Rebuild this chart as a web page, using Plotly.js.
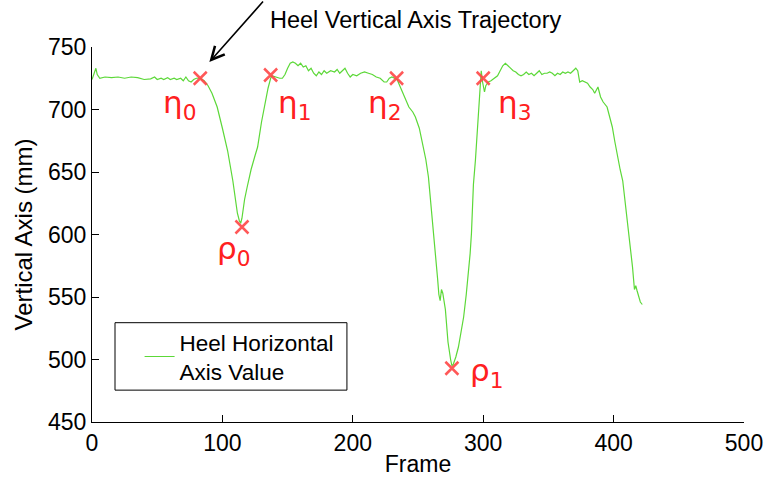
<!DOCTYPE html>
<html>
<head>
<meta charset="utf-8">
<script src="https://cdn.plot.ly/plotly-3.0.1.min.js"></script>
<style>html,body{margin:0;padding:0;background:#fff;}#chart{width:764px;height:477px;}</style>
</head>
<body>
<div id="chart"></div>
<script>
// Heel trajectory (frame, vertical axis value in mm)
const frames = [0,2,3,4,6,10,15,20,25,30,35,40,45,48,50,53,55,58,60,63,65,68,70,72,74,76,78,80,83,
  86,89,92,94,96,100,104,108,110,111.5,113,114,115,117,119,122,125,127,130,133,135,137,138,
  141,144,146,148,150,152,154,156,158,160,162,164,166,168,170,172,174,176,178,180,183,186,188,190,192,194,196,198,200,203,206,209,212,215,218,221,224,226,228,230,232,234,
  236,238,240,243,246,248,251,253,256,258,260,261,263,265,266,267,268,269,271,273,275,276,277,279,281,283,285,287,288.5,290,291,292.5,294,296,297.5,298.5,299.5,301,302,304,306,309,311,313,315,317,319,321,323,325,327,329,331,333,335,337,339,341,343,345,347,349,351,353,355,357,359,361,363,365,367,369,371,372.5,374,376,378,380,382,384,385.5,387,388,390,392,395,397,399,401,403,405,407,409,410.5,412,413,414.5,416,417,418,419,420.5,422];
const heelValues = [724,729,733,728,725,726,725.5,726,725,726,725.5,724,724.5,726,724,725,724,725.5,724,725,724,725,723,726,723,722,724,725,725,
  723,719,713,708,702,685,667,643,628,617,611,609,613,628,638,652,663,670,690,707,717,725,727,
  726,725,725,728,733,737,738,737,735,737,734,735,731,733,729,727,730,728,731,729,731,730,732,729,731,733,729,726,728,727,729,730,729,728,726,725,722,722,725,726,725,724,
  719,714,708,702,698,694,685,676,660,646,624,615,593,565,552,547,556,553,540,514,500,495,496,502,510,522,534,552,566,585,601,640,659,689,718,731,722,714,719,722,723,725,727,731,735,737,735,733,731,730,728,727,728,730,728,729,727,729,731,728,729,729,730,729,727,729,728,730,729,730,729,731,733,731,722,723,722,721,718,716,713,716,718,710,706,702,695,686,674,662,652,643,625,612,598,586,574,556,559,555,552,546,544];

// Key events (red crosses)
const eventFrames = [83,115,137,233.6,276,300];
const eventValues = [725,606,727.6,725,493,725];
const eventLabels = ["η<sub>0</sub>","ρ<sub>0</sub>","η<sub>1</sub>","η<sub>2</sub>","ρ<sub>1</sub>","η<sub>3</sub>"];
const labelFrames = [67,109,155,224,303,324];
const labelValues = [704,587,704,704,490,704];

const xTicks = [0,100,200,300,400,500];
const yTicks = [450,500,550,600,650,700,750];

const traces = [
  {x: frames, y: heelValues, type:'scatter', mode:'lines',
   line:{color:'#5cd838', width:1.2}, name:'Heel Horizontal<br>Axis Value', showlegend:true},
  {x: eventFrames, y: eventValues, type:'scatter', mode:'markers',
   marker:{symbol:'x-thin-open', size:13, color:'rgba(255,70,70,0.9)', line:{color:'rgba(255,70,70,0.9)', width:2.5}},
   showlegend:false, hoverinfo:'skip'}
];

const annotations = eventLabels.map((t,i)=>({
  x: labelFrames[i], y: labelValues[i], xref:'x', yref:'y', text:t, showarrow:false,
  font:{family:'DejaVu Sans', size:31, color:'#ff2020'}, xanchor:'center', yanchor:'middle'
}));
annotations.push({
  x: 90, y: 738, xref:'x', yref:'y', text:'', showarrow:true, ax:55, ay:-62,
  arrowhead:5, arrowsize:1.6, arrowwidth:1.6, arrowcolor:'#000'
});
annotations.push({
  x: 0.27, y: 1.072, xref:'paper', yref:'paper', text:'Heel Vertical Axis Trajectory',
  showarrow:false, xanchor:'left', yanchor:'middle',
  font:{family:'Liberation Sans, Arial', size:23.5, color:'#000'}
});

const layout = {
  width:764, height:477,
  margin:{l:92, r:20, t:47, b:55},
  paper_bgcolor:'#fff', plot_bgcolor:'#fff',
  font:{family:'Liberation Sans, Arial', size:23, color:'#000'},
  xaxis:{range:[0,500], tickvals:xTicks, ticks:'inside', ticklen:7, tickcolor:'#000',
    showline:true, linecolor:'#000', linewidth:1, showgrid:false, zeroline:false,
    ticklabeloverflow:'allow',
    title:{text:'Frame', font:{size:23}, standoff:2}, tickfont:{size:23}},
  yaxis:{range:[450,750], tickvals:yTicks, ticks:'inside', ticklen:7, tickcolor:'#000',
    showline:true, linecolor:'#000', linewidth:1, showgrid:false, zeroline:false,
    title:{text:'Vertical Axis (mm)', font:{size:24}, standoff:8}, tickfont:{size:23}},
  showlegend:true,
  legend:{x:0.073, y:0.27, xanchor:'left', yanchor:'top', bgcolor:'rgba(0,0,0,0)',
    borderwidth:0, font:{size:22.5}, tracegroupgap:0},
  shapes:[{type:'rect', xref:'paper', yref:'paper', x0:0.0353, x1:0.391, y0:0.085, y1:0.2648,
    line:{color:'#000', width:1}, fillcolor:'rgba(0,0,0,0)'}],
  annotations: annotations
};

Plotly.newPlot('chart', traces, layout, {displayModeBar:false, staticPlot:true});
</script>
</body>
</html>
